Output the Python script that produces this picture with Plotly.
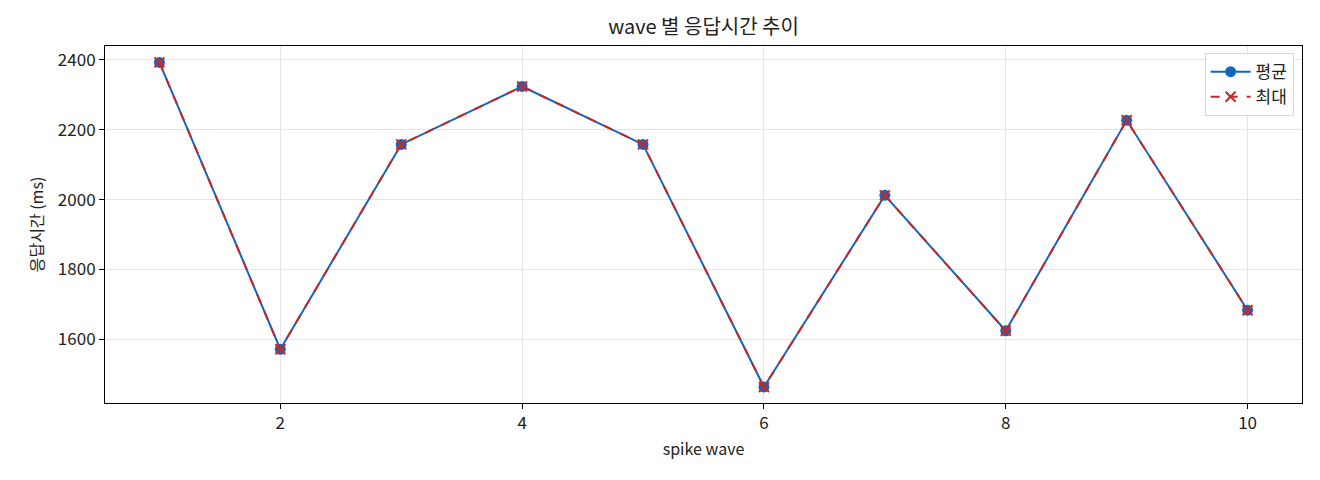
import plotly.graph_objects as go

# -----------------------------
# Data
# -----------------------------
waves = [1, 2, 3, 4, 5, 6, 7, 8, 9, 10]
avg_ms = [2393, 1571, 2158, 2324, 2158, 1463, 2012, 1624, 2227, 1683]
max_ms = [2393, 1571, 2158, 2324, 2158, 1463, 2012, 1624, 2227, 1683]
x_ticks = [2, 4, 6, 8, 10]
y_ticks = [1600, 1800, 2000, 2200, 2400]

BLUE = "#1565C0"
RED = "#C62828"
FONT = "Noto Sans CJK KR"

fig = go.Figure()

fig.add_trace(go.Scatter(
    x=waves, y=avg_ms, name="평균", mode="lines+markers",
    line=dict(color=BLUE, width=2),
    marker=dict(symbol="circle", size=11, color=BLUE)
))

fig.add_trace(go.Scatter(
    x=waves, y=max_ms, name="최대", mode="lines+markers",
    line=dict(color=RED, width=2, dash="dash"),
    marker=dict(symbol="x-thin", size=10, line=dict(color=RED, width=2))
))

axis_style = dict(
    showline=True, linecolor="black", linewidth=1, mirror=True,
    gridcolor="#E5E5E5", gridwidth=1, zeroline=False,
    ticks="outside", ticklen=5, tickcolor="black",
    tickfont=dict(size=17, color="#222"),
)

# the page adds ~8px body margin, margins below are compensated for it
fig.update_layout(
    width=1320, height=480,
    plot_bgcolor="white", paper_bgcolor="white",
    font=dict(family=FONT, color="#222"),
    margin=dict(l=97, r=26, t=38, b=85),
    title=dict(text="wave 별 응답시간 추이", x=0.5, xref="paper", y=0.96,
               yanchor="middle", font=dict(size=20)),
    xaxis=dict(title=dict(text="spike wave", font=dict(size=16), standoff=10),
               range=[0.55, 10.45], tickvals=x_ticks, **axis_style),
    yaxis=dict(title=dict(text="응답시간 (ms)", font=dict(size=16), standoff=10),
               range=[1417, 2440], tickvals=y_ticks, **axis_style),
    legend=dict(x=0.993, y=0.98, xanchor="right", yanchor="top",
                bgcolor="white", bordercolor="#D8D8D8", borderwidth=1,
                font=dict(size=17), itemwidth=40),
    showlegend=True,
)

fig.write_html("out.html")
